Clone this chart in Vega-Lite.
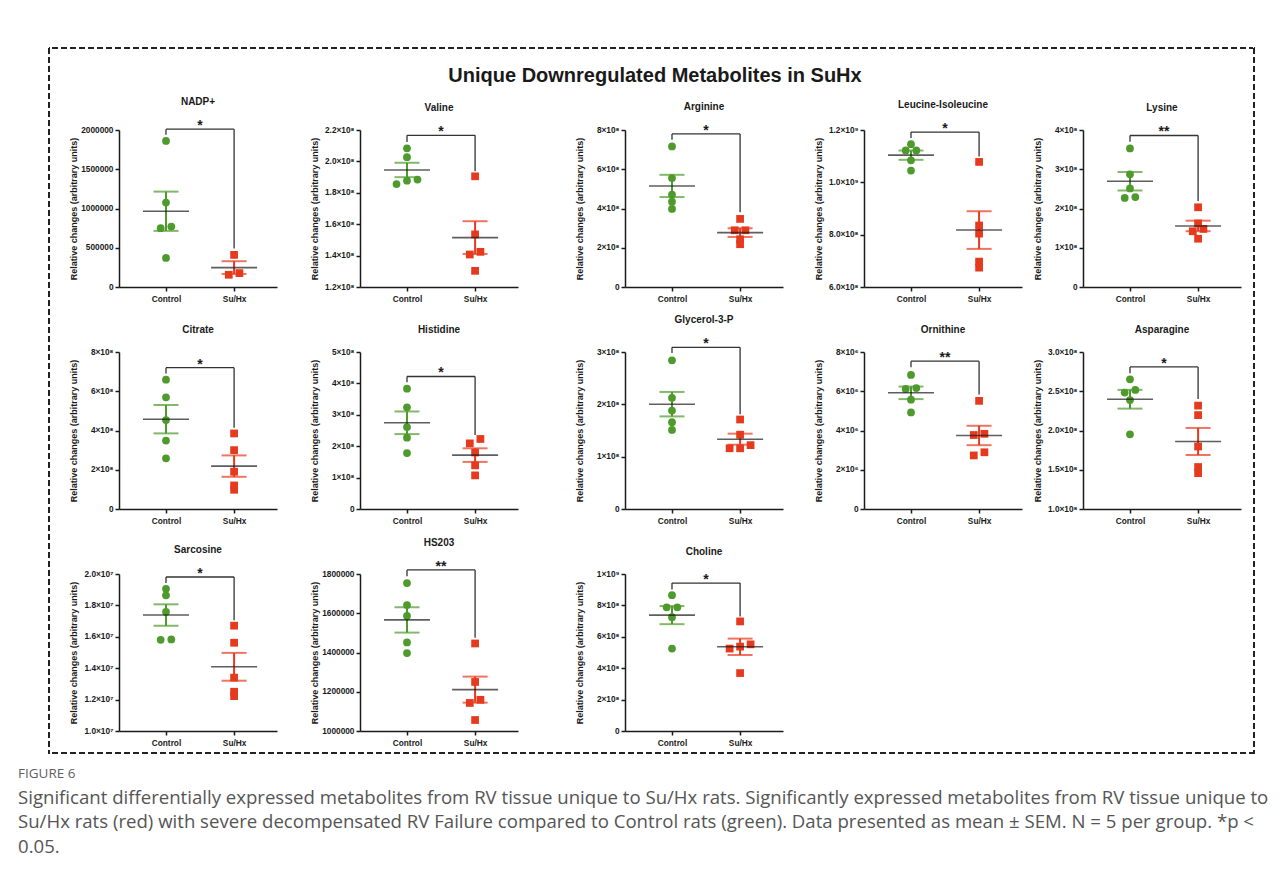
{
"$schema": "https://vega.github.io/schema/vega-lite/v6.json",
"background": "white",
"padding": {"left": 18, "top": 47, "right": 0, "bottom": 0},
"title": {"text": "FIGURE 6", "subtitle": ["Significant differentially expressed metabolites from RV tissue unique to Su/Hx rats. Significantly expressed metabolites from RV tissue unique to", "Su/Hx rats (red) with severe decompensated RV Failure compared to Control rats (green). Data presented as mean ± SEM. N = 5 per group. *p <", "0.05."], "orient": "bottom", "anchor": "start", "frame": "bounds", "dx": -30, "offset": 13, "font": "Open Sans", "fontSize": 13.5, "fontWeight": "normal", "color": "#5f5f5f", "subtitleFont": "Open Sans", "subtitleFontSize": 18.6, "subtitleColor": "#555555", "subtitleLineHeight": 24.5, "subtitlePadding": 8},
"datasets": {
"pts": [
{"p":"NADP+","g":"Control","v":1.86e6},{"p":"NADP+","g":"Control","v":1.075e6},{"p":"NADP+","g":"Control","v":7.7e5},{"p":"NADP+","g":"Control","v":7.5e5},{"p":"NADP+","g":"Control","v":3.7e5},
{"p":"NADP+","g":"Su/Hx","v":4.09e5},{"p":"NADP+","g":"Su/Hx","v":1.56e5},{"p":"NADP+","g":"Su/Hx","v":1.77e5},
{"p":"Valine","g":"Control","v":2.083e8},{"p":"Valine","g":"Control","v":2.027e8},{"p":"Valine","g":"Control","v":1.884e8},{"p":"Valine","g":"Control","v":1.877e8},{"p":"Valine","g":"Control","v":1.856e8},
{"p":"Valine","g":"Su/Hx","v":1.905e8},{"p":"Valine","g":"Su/Hx","v":1.535e8},{"p":"Valine","g":"Su/Hx","v":1.424e8},{"p":"Valine","g":"Su/Hx","v":1.407e8},{"p":"Valine","g":"Su/Hx","v":1.303e8},
{"p":"Arginine","g":"Control","v":7.16e8},{"p":"Arginine","g":"Control","v":5.55e8},{"p":"Arginine","g":"Control","v":4.71e8},{"p":"Arginine","g":"Control","v":4.35e8},{"p":"Arginine","g":"Control","v":3.98e8},
{"p":"Arginine","g":"Su/Hx","v":3.47e8},{"p":"Arginine","g":"Su/Hx","v":2.89e8},{"p":"Arginine","g":"Su/Hx","v":2.89e8},{"p":"Arginine","g":"Su/Hx","v":2.43e8},{"p":"Arginine","g":"Su/Hx","v":2.18e8},
{"p":"Leucine-Isoleucine","g":"Control","v":1.146e9},{"p":"Leucine-Isoleucine","g":"Control","v":1.122e9},{"p":"Leucine-Isoleucine","g":"Control","v":1.122e9},{"p":"Leucine-Isoleucine","g":"Control","v":1.084e9},{"p":"Leucine-Isoleucine","g":"Control","v":1.045e9},
{"p":"Leucine-Isoleucine","g":"Su/Hx","v":1.078e9},{"p":"Leucine-Isoleucine","g":"Su/Hx","v":8.35e8},{"p":"Leucine-Isoleucine","g":"Su/Hx","v":8.04e8},{"p":"Leucine-Isoleucine","g":"Su/Hx","v":6.97e8},{"p":"Leucine-Isoleucine","g":"Su/Hx","v":6.74e8},
{"p":"Lysine","g":"Control","v":3.53e8},{"p":"Lysine","g":"Control","v":2.87e8},{"p":"Lysine","g":"Control","v":2.51e8},{"p":"Lysine","g":"Control","v":2.27e8},{"p":"Lysine","g":"Control","v":2.29e8},
{"p":"Lysine","g":"Su/Hx","v":2.03e8},{"p":"Lysine","g":"Su/Hx","v":1.62e8},{"p":"Lysine","g":"Su/Hx","v":1.48e8},{"p":"Lysine","g":"Su/Hx","v":1.42e8},{"p":"Lysine","g":"Su/Hx","v":1.23e8},
{"p":"Citrate","g":"Control","v":6.59e8},{"p":"Citrate","g":"Control","v":5.69e8},{"p":"Citrate","g":"Control","v":4.53e8},{"p":"Citrate","g":"Control","v":3.49e8},{"p":"Citrate","g":"Control","v":2.58e8},
{"p":"Citrate","g":"Su/Hx","v":3.85e8},{"p":"Citrate","g":"Su/Hx","v":3.0e8},{"p":"Citrate","g":"Su/Hx","v":1.9e8},{"p":"Citrate","g":"Su/Hx","v":1.2e8},{"p":"Citrate","g":"Su/Hx","v":9.8e7},
{"p":"Histidine","g":"Control","v":3.83e8},{"p":"Histidine","g":"Control","v":3.24e8},{"p":"Histidine","g":"Control","v":2.61e8},{"p":"Histidine","g":"Control","v":2.27e8},{"p":"Histidine","g":"Control","v":1.78e8},
{"p":"Histidine","g":"Su/Hx","v":2.23e8},{"p":"Histidine","g":"Su/Hx","v":2.09e8},{"p":"Histidine","g":"Su/Hx","v":1.8e8},{"p":"Histidine","g":"Su/Hx","v":1.39e8},{"p":"Histidine","g":"Su/Hx","v":1.07e8},
{"p":"Glycerol-3-P","g":"Control","v":2.84e8},{"p":"Glycerol-3-P","g":"Control","v":2.125e8},{"p":"Glycerol-3-P","g":"Control","v":1.88e8},{"p":"Glycerol-3-P","g":"Control","v":1.66e8},{"p":"Glycerol-3-P","g":"Control","v":1.51e8},
{"p":"Glycerol-3-P","g":"Su/Hx","v":1.71e8},{"p":"Glycerol-3-P","g":"Su/Hx","v":1.42e8},{"p":"Glycerol-3-P","g":"Su/Hx","v":1.22e8},{"p":"Glycerol-3-P","g":"Su/Hx","v":1.16e8},{"p":"Glycerol-3-P","g":"Su/Hx","v":1.16e8},
{"p":"Ornithine","g":"Control","v":6.83e6},{"p":"Ornithine","g":"Control","v":6.12e6},{"p":"Ornithine","g":"Control","v":6.16e6},{"p":"Ornithine","g":"Control","v":5.57e6},{"p":"Ornithine","g":"Control","v":4.92e6},
{"p":"Ornithine","g":"Su/Hx","v":5.51e6},{"p":"Ornithine","g":"Su/Hx","v":3.77e6},{"p":"Ornithine","g":"Su/Hx","v":3.83e6},{"p":"Ornithine","g":"Su/Hx","v":2.89e6},{"p":"Ornithine","g":"Su/Hx","v":2.73e6},
{"p":"Asparagine","g":"Control","v":2.652e8},{"p":"Asparagine","g":"Control","v":2.483e8},{"p":"Asparagine","g":"Control","v":2.517e8},{"p":"Asparagine","g":"Control","v":2.387e8},{"p":"Asparagine","g":"Control","v":1.952e8},
{"p":"Asparagine","g":"Su/Hx","v":2.317e8},{"p":"Asparagine","g":"Su/Hx","v":2.196e8},{"p":"Asparagine","g":"Su/Hx","v":1.796e8},{"p":"Asparagine","g":"Su/Hx","v":1.535e8},{"p":"Asparagine","g":"Su/Hx","v":1.457e8},
{"p":"Sarcosine","g":"Control","v":1.906e7},{"p":"Sarcosine","g":"Control","v":1.864e7},{"p":"Sarcosine","g":"Control","v":1.759e7},{"p":"Sarcosine","g":"Control","v":1.581e7},{"p":"Sarcosine","g":"Control","v":1.583e7},
{"p":"Sarcosine","g":"Su/Hx","v":1.671e7},{"p":"Sarcosine","g":"Su/Hx","v":1.562e7},{"p":"Sarcosine","g":"Su/Hx","v":1.34e7},{"p":"Sarcosine","g":"Su/Hx","v":1.25e7},{"p":"Sarcosine","g":"Su/Hx","v":1.222e7},
{"p":"HS203","g":"Control","v":1.754e6},{"p":"HS203","g":"Control","v":1.642e6},{"p":"HS203","g":"Control","v":1.586e6},{"p":"HS203","g":"Control","v":1.451e6},{"p":"HS203","g":"Control","v":1.397e6},
{"p":"HS203","g":"Su/Hx","v":1.446e6},{"p":"HS203","g":"Su/Hx","v":1.25e6},{"p":"HS203","g":"Su/Hx","v":1.159e6},{"p":"HS203","g":"Su/Hx","v":1.143e6},{"p":"HS203","g":"Su/Hx","v":1.056e6},
{"p":"Choline","g":"Control","v":8.65e8},{"p":"Choline","g":"Control","v":7.88e8},{"p":"Choline","g":"Control","v":7.88e8},{"p":"Choline","g":"Control","v":7.25e8},{"p":"Choline","g":"Control","v":5.25e8},
{"p":"Choline","g":"Su/Hx","v":6.98e8},{"p":"Choline","g":"Su/Hx","v":5.52e8},{"p":"Choline","g":"Su/Hx","v":5.25e8},{"p":"Choline","g":"Su/Hx","v":5.375e8},{"p":"Choline","g":"Su/Hx","v":3.69e8}
],
"sig": [
{"p":"NADP+","top":2.01e6,"left":1.94e6,"right":4.9e5,"stars":"*"},
{"p":"Valine","top":2.166e8,"left":2.123e8,"right":1.937e8,"stars":"*"},
{"p":"Arginine","top":7.8e8,"left":7.5e8,"right":3.81e8,"stars":"*"},
{"p":"Leucine-Isoleucine","top":1.192e9,"left":1.169e9,"right":1.099e9,"stars":"*"},
{"p":"Lysine","top":3.86e8,"left":3.7e8,"right":2.19e8,"stars":"**"},
{"p":"Citrate","top":7.2e8,"left":6.9e8,"right":4.14e8,"stars":"*"},
{"p":"Histidine","top":4.22e8,"left":4.04e8,"right":2.36e8,"stars":"*"},
{"p":"Glycerol-3-P","top":3.09e8,"left":2.98e8,"right":1.81e8,"stars":"*"},
{"p":"Ornithine","top":7.53e6,"left":7.22e6,"right":5.83e6,"stars":"**"},
{"p":"Asparagine","top":2.81e8,"left":2.73e8,"right":2.4e8,"stars":"*"},
{"p":"Sarcosine","top":1.981e7,"left":1.943e7,"right":1.706e7,"stars":"*"},
{"p":"HS203","top":1.821e6,"left":1.789e6,"right":1.475e6,"stars":"**"},
{"p":"Choline","top":9.42e8,"left":9.02e8,"right":7.29e8,"stars":"*"}
]
},
"spacing": 0,
"hconcat": [
{"width": 0.01, "height": 705, "data": {"values": []}, "mark": "point", "view": {"stroke": "#222222", "strokeWidth": 2, "strokeDash": [6, 3]}},
{"vconcat": [
 {"vconcat": [
  {"width": 1200, "height": 0.01, "data": {"values": []}, "mark": "point", "view": {"stroke": "#222222", "strokeWidth": 2, "strokeDash": [6, 3]}},
  {"spacing": 16, "hconcat": [
  {"width": 0.01, "height": 0.01, "data": {"values": []}, "mark": "point"},
  {"title": {"text": "Unique Downregulated Metabolites in SuHx", "fontSize": 20, "offset": 11, "frame": "bounds", "anchor": "middle"},
   "spacing": 12,
   "vconcat": [
   {"spacing": 57, "hconcat": [
    {"spacing": 33, "hconcat": [
     {"title": "NADP+", "width": 158, "height": 157,
      "encoding": {"x": {"field": "gx", "type": "quantitative", "scale": {"domain": [-0.69, 1.63], "nice": false, "zero": false}, "axis": {"values": [0, 1], "labelExpr": "datum.value == 0 ? 'Control' : 'Su/Hx'", "title": null}},
                   "y": {"field": "v", "type": "quantitative", "scale": {"domain": [0, 2000000], "nice": false, "zero": false}, "axis": {"values": [0, 500000, 1000000, 1500000, 2000000], "format": "d", "title": "Relative changes (arbitrary units)"}}},
      "layer": [
       {"data": {"name": "pts"}, "transform": [{"filter": "datum.p == 'NADP+'"}, {"joinaggregate": [{"op": "min", "field": "v", "as": "vmin"}, {"op": "max", "field": "v", "as": "vmax"}]}, {"window": [{"op": "lag", "field": "v", "as": "vp"}, {"op": "lead", "field": "v", "as": "vn"}], "groupby": ["g"], "sort": [{"field": "v", "order": "ascending"}]}, {"calculate": "datum.vp != null && datum.v - datum.vp < 0.04 * (datum.vmax - datum.vmin)", "as": "cp"}, {"calculate": "datum.vn != null && datum.vn - datum.v < 0.04 * (datum.vmax - datum.vmin)", "as": "cn"}, {"window": [{"op": "lag", "field": "cp", "as": "cpp"}, {"op": "lead", "field": "cn", "as": "cnn"}], "groupby": ["g"], "sort": [{"field": "v", "order": "ascending"}]}, {"calculate": "(datum.g == 'Control' ? 0 : 1) + (datum.cp && datum.cn ? 0 : datum.cn ? (datum.cnn ? -0.154 : -0.078) : datum.cp ? (datum.cpp ? 0.154 : 0.078) : 0)", "as": "gx"}], "mark": {"type": "point", "filled": true, "size": 60, "opacity": 1}, "encoding": {"color": {"field": "g", "type": "nominal", "scale": {"domain": ["Control", "Su/Hx"], "range": ["#4e9a2c", "#e63a1e"]}, "legend": null}, "shape": {"field": "g", "type": "nominal", "scale": {"domain": ["Control", "Su/Hx"], "range": ["circle", "square"]}, "legend": null}}},
       {"data": {"name": "pts"}, "transform": [{"filter": "datum.p == 'NADP+'"}, {"aggregate": [{"op": "mean", "field": "v", "as": "v"}, {"op": "stderr", "field": "v", "as": "se"}], "groupby": ["g"]}, {"calculate": "datum.g == 'Control' ? 0 : 1", "as": "gx"}, {"calculate": "datum.v - datum.se", "as": "lo"}, {"calculate": "datum.v + datum.se", "as": "hi"}],
        "layer": [
         {"mark": {"type": "rule", "strokeWidth": 2}, "encoding": {"y": {"field": "lo", "type": "quantitative"}, "y2": {"field": "hi"}, "color": {"field": "g", "type": "nominal", "legend": null}}},
         {"mark": {"type": "tick", "orient": "horizontal", "size": 25, "thickness": 2}, "encoding": {"y": {"field": "lo", "type": "quantitative"}, "color": {"field": "g", "type": "nominal", "legend": null}}},
         {"mark": {"type": "tick", "orient": "horizontal", "size": 25, "thickness": 2}, "encoding": {"y": {"field": "hi", "type": "quantitative"}, "color": {"field": "g", "type": "nominal", "legend": null}}},
         {"mark": {"type": "tick", "orient": "horizontal", "size": 46, "thickness": 1.6, "color": "#1a1a1a"}, "encoding": {}}
        ]},
       {"data": {"name": "sig"}, "transform": [{"filter": "datum.p == 'NADP+'"}],
        "layer": [
         {"transform": [{"calculate": "0", "as": "gx"}], "mark": "rule", "encoding": {"y": {"field": "left", "type": "quantitative"}, "y2": {"field": "top"}}},
         {"transform": [{"calculate": "0", "as": "gx"}, {"calculate": "1", "as": "gx2"}], "mark": "rule", "encoding": {"x2": {"field": "gx2"}, "y": {"field": "top", "type": "quantitative"}}},
         {"transform": [{"calculate": "1", "as": "gx"}], "mark": "rule", "encoding": {"y": {"field": "right", "type": "quantitative"}, "y2": {"field": "top"}}},
         {"transform": [{"calculate": "0.5", "as": "gx"}], "mark": "text", "encoding": {"y": {"field": "top", "type": "quantitative"}, "text": {"field": "stars"}}}
        ]}
      ]},
     {"title": "Valine", "width": 158, "height": 157,
      "encoding": {"x": {"field": "gx", "type": "quantitative", "scale": {"domain": [-0.69, 1.63], "nice": false, "zero": false}, "axis": {"values": [0, 1], "labelExpr": "datum.value == 0 ? 'Control' : 'Su/Hx'", "title": null}},
                   "y": {"field": "v", "type": "quantitative", "scale": {"domain": [1.2e8, 2.2e8], "nice": false, "zero": false}, "axis": {"values": [1.2e8, 1.4e8, 1.6e8, 1.8e8, 2.0e8, 2.2e8], "labelExpr": "datum.value == 0 ? '0' : format(datum.value / pow(10, floor(log(datum.value) / LN10 + 1e-6)), '.1f') + '×10' + ['⁰','¹','²','³','⁴','⁵','⁶','⁷','⁸','⁹'][floor(log(datum.value) / LN10 + 1e-6)]", "title": "Relative changes (arbitrary units)"}}},
      "layer": [
       {"data": {"name": "pts"}, "transform": [{"filter": "datum.p == 'Valine'"}, {"joinaggregate": [{"op": "min", "field": "v", "as": "vmin"}, {"op": "max", "field": "v", "as": "vmax"}]}, {"window": [{"op": "lag", "field": "v", "as": "vp"}, {"op": "lead", "field": "v", "as": "vn"}], "groupby": ["g"], "sort": [{"field": "v", "order": "ascending"}]}, {"calculate": "datum.vp != null && datum.v - datum.vp < 0.04 * (datum.vmax - datum.vmin)", "as": "cp"}, {"calculate": "datum.vn != null && datum.vn - datum.v < 0.04 * (datum.vmax - datum.vmin)", "as": "cn"}, {"window": [{"op": "lag", "field": "cp", "as": "cpp"}, {"op": "lead", "field": "cn", "as": "cnn"}], "groupby": ["g"], "sort": [{"field": "v", "order": "ascending"}]}, {"calculate": "(datum.g == 'Control' ? 0 : 1) + (datum.cp && datum.cn ? 0 : datum.cn ? (datum.cnn ? -0.154 : -0.078) : datum.cp ? (datum.cpp ? 0.154 : 0.078) : 0)", "as": "gx"}], "mark": {"type": "point", "filled": true, "size": 60, "opacity": 1}, "encoding": {"color": {"field": "g", "type": "nominal", "scale": {"domain": ["Control", "Su/Hx"], "range": ["#4e9a2c", "#e63a1e"]}, "legend": null}, "shape": {"field": "g", "type": "nominal", "scale": {"domain": ["Control", "Su/Hx"], "range": ["circle", "square"]}, "legend": null}}},
       {"data": {"name": "pts"}, "transform": [{"filter": "datum.p == 'Valine'"}, {"aggregate": [{"op": "mean", "field": "v", "as": "v"}, {"op": "stderr", "field": "v", "as": "se"}], "groupby": ["g"]}, {"calculate": "datum.g == 'Control' ? 0 : 1", "as": "gx"}, {"calculate": "datum.v - datum.se", "as": "lo"}, {"calculate": "datum.v + datum.se", "as": "hi"}],
        "layer": [
         {"mark": {"type": "rule", "strokeWidth": 2}, "encoding": {"y": {"field": "lo", "type": "quantitative"}, "y2": {"field": "hi"}, "color": {"field": "g", "type": "nominal", "legend": null}}},
         {"mark": {"type": "tick", "orient": "horizontal", "size": 25, "thickness": 2}, "encoding": {"y": {"field": "lo", "type": "quantitative"}, "color": {"field": "g", "type": "nominal", "legend": null}}},
         {"mark": {"type": "tick", "orient": "horizontal", "size": 25, "thickness": 2}, "encoding": {"y": {"field": "hi", "type": "quantitative"}, "color": {"field": "g", "type": "nominal", "legend": null}}},
         {"mark": {"type": "tick", "orient": "horizontal", "size": 46, "thickness": 1.6, "color": "#1a1a1a"}, "encoding": {}}
        ]},
       {"data": {"name": "sig"}, "transform": [{"filter": "datum.p == 'Valine'"}],
        "layer": [
         {"transform": [{"calculate": "0", "as": "gx"}], "mark": "rule", "encoding": {"y": {"field": "left", "type": "quantitative"}, "y2": {"field": "top"}}},
         {"transform": [{"calculate": "0", "as": "gx"}, {"calculate": "1", "as": "gx2"}], "mark": "rule", "encoding": {"x2": {"field": "gx2"}, "y": {"field": "top", "type": "quantitative"}}},
         {"transform": [{"calculate": "1", "as": "gx"}], "mark": "rule", "encoding": {"y": {"field": "right", "type": "quantitative"}, "y2": {"field": "top"}}},
         {"transform": [{"calculate": "0.5", "as": "gx"}], "mark": "text", "encoding": {"y": {"field": "top", "type": "quantitative"}, "text": {"field": "stars"}}}
        ]}
      ]}
    ]},
    {"spacing": 31, "hconcat": [
     {"title": "Arginine", "width": 158, "height": 157,
      "encoding": {"x": {"field": "gx", "type": "quantitative", "scale": {"domain": [-0.69, 1.63], "nice": false, "zero": false}, "axis": {"values": [0, 1], "labelExpr": "datum.value == 0 ? 'Control' : 'Su/Hx'", "title": null}},
                   "y": {"field": "v", "type": "quantitative", "scale": {"domain": [0, 8e8], "nice": false, "zero": false}, "axis": {"values": [0, 2e8, 4e8, 6e8, 8e8], "labelExpr": "datum.value == 0 ? '0' : format(datum.value / pow(10, floor(log(datum.value) / LN10 + 1e-6)), '.0f') + '×10' + ['⁰','¹','²','³','⁴','⁵','⁶','⁷','⁸','⁹'][floor(log(datum.value) / LN10 + 1e-6)]", "title": "Relative changes (arbitrary units)"}}},
      "layer": [
       {"data": {"name": "pts"}, "transform": [{"filter": "datum.p == 'Arginine'"}, {"joinaggregate": [{"op": "min", "field": "v", "as": "vmin"}, {"op": "max", "field": "v", "as": "vmax"}]}, {"window": [{"op": "lag", "field": "v", "as": "vp"}, {"op": "lead", "field": "v", "as": "vn"}], "groupby": ["g"], "sort": [{"field": "v", "order": "ascending"}]}, {"calculate": "datum.vp != null && datum.v - datum.vp < 0.04 * (datum.vmax - datum.vmin)", "as": "cp"}, {"calculate": "datum.vn != null && datum.vn - datum.v < 0.04 * (datum.vmax - datum.vmin)", "as": "cn"}, {"window": [{"op": "lag", "field": "cp", "as": "cpp"}, {"op": "lead", "field": "cn", "as": "cnn"}], "groupby": ["g"], "sort": [{"field": "v", "order": "ascending"}]}, {"calculate": "(datum.g == 'Control' ? 0 : 1) + (datum.cp && datum.cn ? 0 : datum.cn ? (datum.cnn ? -0.154 : -0.078) : datum.cp ? (datum.cpp ? 0.154 : 0.078) : 0)", "as": "gx"}], "mark": {"type": "point", "filled": true, "size": 60, "opacity": 1}, "encoding": {"color": {"field": "g", "type": "nominal", "scale": {"domain": ["Control", "Su/Hx"], "range": ["#4e9a2c", "#e63a1e"]}, "legend": null}, "shape": {"field": "g", "type": "nominal", "scale": {"domain": ["Control", "Su/Hx"], "range": ["circle", "square"]}, "legend": null}}},
       {"data": {"name": "pts"}, "transform": [{"filter": "datum.p == 'Arginine'"}, {"aggregate": [{"op": "mean", "field": "v", "as": "v"}, {"op": "stderr", "field": "v", "as": "se"}], "groupby": ["g"]}, {"calculate": "datum.g == 'Control' ? 0 : 1", "as": "gx"}, {"calculate": "datum.v - datum.se", "as": "lo"}, {"calculate": "datum.v + datum.se", "as": "hi"}],
        "layer": [
         {"mark": {"type": "rule", "strokeWidth": 2}, "encoding": {"y": {"field": "lo", "type": "quantitative"}, "y2": {"field": "hi"}, "color": {"field": "g", "type": "nominal", "legend": null}}},
         {"mark": {"type": "tick", "orient": "horizontal", "size": 25, "thickness": 2}, "encoding": {"y": {"field": "lo", "type": "quantitative"}, "color": {"field": "g", "type": "nominal", "legend": null}}},
         {"mark": {"type": "tick", "orient": "horizontal", "size": 25, "thickness": 2}, "encoding": {"y": {"field": "hi", "type": "quantitative"}, "color": {"field": "g", "type": "nominal", "legend": null}}},
         {"mark": {"type": "tick", "orient": "horizontal", "size": 46, "thickness": 1.6, "color": "#1a1a1a"}, "encoding": {}}
        ]},
       {"data": {"name": "sig"}, "transform": [{"filter": "datum.p == 'Arginine'"}],
        "layer": [
         {"transform": [{"calculate": "0", "as": "gx"}], "mark": "rule", "encoding": {"y": {"field": "left", "type": "quantitative"}, "y2": {"field": "top"}}},
         {"transform": [{"calculate": "0", "as": "gx"}, {"calculate": "1", "as": "gx2"}], "mark": "rule", "encoding": {"x2": {"field": "gx2"}, "y": {"field": "top", "type": "quantitative"}}},
         {"transform": [{"calculate": "1", "as": "gx"}], "mark": "rule", "encoding": {"y": {"field": "right", "type": "quantitative"}, "y2": {"field": "top"}}},
         {"transform": [{"calculate": "0.5", "as": "gx"}], "mark": "text", "encoding": {"y": {"field": "top", "type": "quantitative"}, "text": {"field": "stars"}}}
        ]}
      ]},
     {"spacing": 11, "hconcat": [
      {"title": "Leucine-Isoleucine", "width": 158, "height": 157,
       "encoding": {"x": {"field": "gx", "type": "quantitative", "scale": {"domain": [-0.69, 1.63], "nice": false, "zero": false}, "axis": {"values": [0, 1], "labelExpr": "datum.value == 0 ? 'Control' : 'Su/Hx'", "title": null}},
                    "y": {"field": "v", "type": "quantitative", "scale": {"domain": [6e8, 1.2e9], "nice": false, "zero": false}, "axis": {"values": [6e8, 8e8, 1e9, 1.2e9], "labelExpr": "datum.value == 0 ? '0' : format(datum.value / pow(10, floor(log(datum.value) / LN10 + 1e-6)), '.1f') + '×10' + ['⁰','¹','²','³','⁴','⁵','⁶','⁷','⁸','⁹'][floor(log(datum.value) / LN10 + 1e-6)]", "title": "Relative changes (arbitrary units)"}}},
       "layer": [
        {"data": {"name": "pts"}, "transform": [{"filter": "datum.p == 'Leucine-Isoleucine'"}, {"joinaggregate": [{"op": "min", "field": "v", "as": "vmin"}, {"op": "max", "field": "v", "as": "vmax"}]}, {"window": [{"op": "lag", "field": "v", "as": "vp"}, {"op": "lead", "field": "v", "as": "vn"}], "groupby": ["g"], "sort": [{"field": "v", "order": "ascending"}]}, {"calculate": "datum.vp != null && datum.v - datum.vp < 0.04 * (datum.vmax - datum.vmin)", "as": "cp"}, {"calculate": "datum.vn != null && datum.vn - datum.v < 0.04 * (datum.vmax - datum.vmin)", "as": "cn"}, {"window": [{"op": "lag", "field": "cp", "as": "cpp"}, {"op": "lead", "field": "cn", "as": "cnn"}], "groupby": ["g"], "sort": [{"field": "v", "order": "ascending"}]}, {"calculate": "(datum.g == 'Control' ? 0 : 1) + (datum.cp && datum.cn ? 0 : datum.cn ? (datum.cnn ? -0.154 : -0.078) : datum.cp ? (datum.cpp ? 0.154 : 0.078) : 0)", "as": "gx"}], "mark": {"type": "point", "filled": true, "size": 60, "opacity": 1}, "encoding": {"color": {"field": "g", "type": "nominal", "scale": {"domain": ["Control", "Su/Hx"], "range": ["#4e9a2c", "#e63a1e"]}, "legend": null}, "shape": {"field": "g", "type": "nominal", "scale": {"domain": ["Control", "Su/Hx"], "range": ["circle", "square"]}, "legend": null}}},
        {"data": {"name": "pts"}, "transform": [{"filter": "datum.p == 'Leucine-Isoleucine'"}, {"aggregate": [{"op": "mean", "field": "v", "as": "v"}, {"op": "stderr", "field": "v", "as": "se"}], "groupby": ["g"]}, {"calculate": "datum.g == 'Control' ? 0 : 1", "as": "gx"}, {"calculate": "datum.v - datum.se", "as": "lo"}, {"calculate": "datum.v + datum.se", "as": "hi"}],
         "layer": [
          {"mark": {"type": "rule", "strokeWidth": 2}, "encoding": {"y": {"field": "lo", "type": "quantitative"}, "y2": {"field": "hi"}, "color": {"field": "g", "type": "nominal", "legend": null}}},
          {"mark": {"type": "tick", "orient": "horizontal", "size": 25, "thickness": 2}, "encoding": {"y": {"field": "lo", "type": "quantitative"}, "color": {"field": "g", "type": "nominal", "legend": null}}},
          {"mark": {"type": "tick", "orient": "horizontal", "size": 25, "thickness": 2}, "encoding": {"y": {"field": "hi", "type": "quantitative"}, "color": {"field": "g", "type": "nominal", "legend": null}}},
          {"mark": {"type": "tick", "orient": "horizontal", "size": 46, "thickness": 1.6, "color": "#1a1a1a"}, "encoding": {}}
         ]},
        {"data": {"name": "sig"}, "transform": [{"filter": "datum.p == 'Leucine-Isoleucine'"}],
         "layer": [
          {"transform": [{"calculate": "0", "as": "gx"}], "mark": "rule", "encoding": {"y": {"field": "left", "type": "quantitative"}, "y2": {"field": "top"}}},
          {"transform": [{"calculate": "0", "as": "gx"}, {"calculate": "1", "as": "gx2"}], "mark": "rule", "encoding": {"x2": {"field": "gx2"}, "y": {"field": "top", "type": "quantitative"}}},
          {"transform": [{"calculate": "1", "as": "gx"}], "mark": "rule", "encoding": {"y": {"field": "right", "type": "quantitative"}, "y2": {"field": "top"}}},
          {"transform": [{"calculate": "0.5", "as": "gx"}], "mark": "text", "encoding": {"y": {"field": "top", "type": "quantitative"}, "text": {"field": "stars"}}}
         ]}
       ]},
      {"title": "Lysine", "width": 158, "height": 157,
       "encoding": {"x": {"field": "gx", "type": "quantitative", "scale": {"domain": [-0.69, 1.63], "nice": false, "zero": false}, "axis": {"values": [0, 1], "labelExpr": "datum.value == 0 ? 'Control' : 'Su/Hx'", "title": null}},
                    "y": {"field": "v", "type": "quantitative", "scale": {"domain": [0, 4e8], "nice": false, "zero": false}, "axis": {"values": [0, 1e8, 2e8, 3e8, 4e8], "labelExpr": "datum.value == 0 ? '0' : format(datum.value / pow(10, floor(log(datum.value) / LN10 + 1e-6)), '.0f') + '×10' + ['⁰','¹','²','³','⁴','⁵','⁶','⁷','⁸','⁹'][floor(log(datum.value) / LN10 + 1e-6)]", "title": "Relative changes (arbitrary units)"}}},
       "layer": [
        {"data": {"name": "pts"}, "transform": [{"filter": "datum.p == 'Lysine'"}, {"joinaggregate": [{"op": "min", "field": "v", "as": "vmin"}, {"op": "max", "field": "v", "as": "vmax"}]}, {"window": [{"op": "lag", "field": "v", "as": "vp"}, {"op": "lead", "field": "v", "as": "vn"}], "groupby": ["g"], "sort": [{"field": "v", "order": "ascending"}]}, {"calculate": "datum.vp != null && datum.v - datum.vp < 0.04 * (datum.vmax - datum.vmin)", "as": "cp"}, {"calculate": "datum.vn != null && datum.vn - datum.v < 0.04 * (datum.vmax - datum.vmin)", "as": "cn"}, {"window": [{"op": "lag", "field": "cp", "as": "cpp"}, {"op": "lead", "field": "cn", "as": "cnn"}], "groupby": ["g"], "sort": [{"field": "v", "order": "ascending"}]}, {"calculate": "(datum.g == 'Control' ? 0 : 1) + (datum.cp && datum.cn ? 0 : datum.cn ? (datum.cnn ? -0.154 : -0.078) : datum.cp ? (datum.cpp ? 0.154 : 0.078) : 0)", "as": "gx"}], "mark": {"type": "point", "filled": true, "size": 60, "opacity": 1}, "encoding": {"color": {"field": "g", "type": "nominal", "scale": {"domain": ["Control", "Su/Hx"], "range": ["#4e9a2c", "#e63a1e"]}, "legend": null}, "shape": {"field": "g", "type": "nominal", "scale": {"domain": ["Control", "Su/Hx"], "range": ["circle", "square"]}, "legend": null}}},
        {"data": {"name": "pts"}, "transform": [{"filter": "datum.p == 'Lysine'"}, {"aggregate": [{"op": "mean", "field": "v", "as": "v"}, {"op": "stderr", "field": "v", "as": "se"}], "groupby": ["g"]}, {"calculate": "datum.g == 'Control' ? 0 : 1", "as": "gx"}, {"calculate": "datum.v - datum.se", "as": "lo"}, {"calculate": "datum.v + datum.se", "as": "hi"}],
         "layer": [
          {"mark": {"type": "rule", "strokeWidth": 2}, "encoding": {"y": {"field": "lo", "type": "quantitative"}, "y2": {"field": "hi"}, "color": {"field": "g", "type": "nominal", "legend": null}}},
          {"mark": {"type": "tick", "orient": "horizontal", "size": 25, "thickness": 2}, "encoding": {"y": {"field": "lo", "type": "quantitative"}, "color": {"field": "g", "type": "nominal", "legend": null}}},
          {"mark": {"type": "tick", "orient": "horizontal", "size": 25, "thickness": 2}, "encoding": {"y": {"field": "hi", "type": "quantitative"}, "color": {"field": "g", "type": "nominal", "legend": null}}},
          {"mark": {"type": "tick", "orient": "horizontal", "size": 46, "thickness": 1.6, "color": "#1a1a1a"}, "encoding": {}}
         ]},
        {"data": {"name": "sig"}, "transform": [{"filter": "datum.p == 'Lysine'"}],
         "layer": [
          {"transform": [{"calculate": "0", "as": "gx"}], "mark": "rule", "encoding": {"y": {"field": "left", "type": "quantitative"}, "y2": {"field": "top"}}},
          {"transform": [{"calculate": "0", "as": "gx"}, {"calculate": "1", "as": "gx2"}], "mark": "rule", "encoding": {"x2": {"field": "gx2"}, "y": {"field": "top", "type": "quantitative"}}},
          {"transform": [{"calculate": "1", "as": "gx"}], "mark": "rule", "encoding": {"y": {"field": "right", "type": "quantitative"}, "y2": {"field": "top"}}},
          {"transform": [{"calculate": "0.5", "as": "gx"}], "mark": "text", "encoding": {"y": {"field": "top", "type": "quantitative"}, "text": {"field": "stars"}}}
         ]}
       ]}
     ]}
    ]}
   ]},
   {"spacing": 57, "hconcat": [
    {"spacing": 33, "hconcat": [
     {"title": "Citrate", "width": 158, "height": 157,
      "encoding": {"x": {"field": "gx", "type": "quantitative", "scale": {"domain": [-0.69, 1.63], "nice": false, "zero": false}, "axis": {"values": [0, 1], "labelExpr": "datum.value == 0 ? 'Control' : 'Su/Hx'", "title": null}},
                   "y": {"field": "v", "type": "quantitative", "scale": {"domain": [0, 8e8], "nice": false, "zero": false}, "axis": {"values": [0, 2e8, 4e8, 6e8, 8e8], "labelExpr": "datum.value == 0 ? '0' : format(datum.value / pow(10, floor(log(datum.value) / LN10 + 1e-6)), '.0f') + '×10' + ['⁰','¹','²','³','⁴','⁵','⁶','⁷','⁸','⁹'][floor(log(datum.value) / LN10 + 1e-6)]", "title": "Relative changes (arbitrary units)"}}},
      "layer": [
       {"data": {"name": "pts"}, "transform": [{"filter": "datum.p == 'Citrate'"}, {"joinaggregate": [{"op": "min", "field": "v", "as": "vmin"}, {"op": "max", "field": "v", "as": "vmax"}]}, {"window": [{"op": "lag", "field": "v", "as": "vp"}, {"op": "lead", "field": "v", "as": "vn"}], "groupby": ["g"], "sort": [{"field": "v", "order": "ascending"}]}, {"calculate": "datum.vp != null && datum.v - datum.vp < 0.035 * (datum.vmax - datum.vmin)", "as": "cp"}, {"calculate": "datum.vn != null && datum.vn - datum.v < 0.035 * (datum.vmax - datum.vmin)", "as": "cn"}, {"window": [{"op": "lag", "field": "cp", "as": "cpp"}, {"op": "lead", "field": "cn", "as": "cnn"}], "groupby": ["g"], "sort": [{"field": "v", "order": "ascending"}]}, {"calculate": "(datum.g == 'Control' ? 0 : 1) + (datum.cp && datum.cn ? 0 : datum.cn ? (datum.cnn ? -0.154 : -0.078) : datum.cp ? (datum.cpp ? 0.154 : 0.078) : 0)", "as": "gx"}], "mark": {"type": "point", "filled": true, "size": 60, "opacity": 1}, "encoding": {"color": {"field": "g", "type": "nominal", "scale": {"domain": ["Control", "Su/Hx"], "range": ["#4e9a2c", "#e63a1e"]}, "legend": null}, "shape": {"field": "g", "type": "nominal", "scale": {"domain": ["Control", "Su/Hx"], "range": ["circle", "square"]}, "legend": null}}},
       {"data": {"name": "pts"}, "transform": [{"filter": "datum.p == 'Citrate'"}, {"aggregate": [{"op": "mean", "field": "v", "as": "v"}, {"op": "stderr", "field": "v", "as": "se"}], "groupby": ["g"]}, {"calculate": "datum.g == 'Control' ? 0 : 1", "as": "gx"}, {"calculate": "datum.v - datum.se", "as": "lo"}, {"calculate": "datum.v + datum.se", "as": "hi"}],
        "layer": [
         {"mark": {"type": "rule", "strokeWidth": 2}, "encoding": {"y": {"field": "lo", "type": "quantitative"}, "y2": {"field": "hi"}, "color": {"field": "g", "type": "nominal", "legend": null}}},
         {"mark": {"type": "tick", "orient": "horizontal", "size": 25, "thickness": 2}, "encoding": {"y": {"field": "lo", "type": "quantitative"}, "color": {"field": "g", "type": "nominal", "legend": null}}},
         {"mark": {"type": "tick", "orient": "horizontal", "size": 25, "thickness": 2}, "encoding": {"y": {"field": "hi", "type": "quantitative"}, "color": {"field": "g", "type": "nominal", "legend": null}}},
         {"mark": {"type": "tick", "orient": "horizontal", "size": 46, "thickness": 1.6, "color": "#1a1a1a"}, "encoding": {}}
        ]},
       {"data": {"name": "sig"}, "transform": [{"filter": "datum.p == 'Citrate'"}],
        "layer": [
         {"transform": [{"calculate": "0", "as": "gx"}], "mark": "rule", "encoding": {"y": {"field": "left", "type": "quantitative"}, "y2": {"field": "top"}}},
         {"transform": [{"calculate": "0", "as": "gx"}, {"calculate": "1", "as": "gx2"}], "mark": "rule", "encoding": {"x2": {"field": "gx2"}, "y": {"field": "top", "type": "quantitative"}}},
         {"transform": [{"calculate": "1", "as": "gx"}], "mark": "rule", "encoding": {"y": {"field": "right", "type": "quantitative"}, "y2": {"field": "top"}}},
         {"transform": [{"calculate": "0.5", "as": "gx"}], "mark": "text", "encoding": {"y": {"field": "top", "type": "quantitative"}, "text": {"field": "stars"}}}
        ]}
      ]},
     {"title": "Histidine", "width": 158, "height": 157,
      "encoding": {"x": {"field": "gx", "type": "quantitative", "scale": {"domain": [-0.69, 1.63], "nice": false, "zero": false}, "axis": {"values": [0, 1], "labelExpr": "datum.value == 0 ? 'Control' : 'Su/Hx'", "title": null}},
                   "y": {"field": "v", "type": "quantitative", "scale": {"domain": [0, 5e8], "nice": false, "zero": false}, "axis": {"values": [0, 1e8, 2e8, 3e8, 4e8, 5e8], "labelExpr": "datum.value == 0 ? '0' : format(datum.value / pow(10, floor(log(datum.value) / LN10 + 1e-6)), '.0f') + '×10' + ['⁰','¹','²','³','⁴','⁵','⁶','⁷','⁸','⁹'][floor(log(datum.value) / LN10 + 1e-6)]", "title": "Relative changes (arbitrary units)"}}},
      "layer": [
       {"data": {"name": "pts"}, "transform": [{"filter": "datum.p == 'Histidine'"}, {"joinaggregate": [{"op": "min", "field": "v", "as": "vmin"}, {"op": "max", "field": "v", "as": "vmax"}]}, {"window": [{"op": "lag", "field": "v", "as": "vp"}, {"op": "lead", "field": "v", "as": "vn"}], "groupby": ["g"], "sort": [{"field": "v", "order": "ascending"}]}, {"calculate": "datum.vp != null && datum.v - datum.vp < 0.055 * (datum.vmax - datum.vmin)", "as": "cp"}, {"calculate": "datum.vn != null && datum.vn - datum.v < 0.055 * (datum.vmax - datum.vmin)", "as": "cn"}, {"window": [{"op": "lag", "field": "cp", "as": "cpp"}, {"op": "lead", "field": "cn", "as": "cnn"}], "groupby": ["g"], "sort": [{"field": "v", "order": "ascending"}]}, {"calculate": "(datum.g == 'Control' ? 0 : 1) + (datum.cp && datum.cn ? 0 : datum.cn ? (datum.cnn ? -0.154 : -0.078) : datum.cp ? (datum.cpp ? 0.154 : 0.078) : 0)", "as": "gx"}], "mark": {"type": "point", "filled": true, "size": 60, "opacity": 1}, "encoding": {"color": {"field": "g", "type": "nominal", "scale": {"domain": ["Control", "Su/Hx"], "range": ["#4e9a2c", "#e63a1e"]}, "legend": null}, "shape": {"field": "g", "type": "nominal", "scale": {"domain": ["Control", "Su/Hx"], "range": ["circle", "square"]}, "legend": null}}},
       {"data": {"name": "pts"}, "transform": [{"filter": "datum.p == 'Histidine'"}, {"aggregate": [{"op": "mean", "field": "v", "as": "v"}, {"op": "stderr", "field": "v", "as": "se"}], "groupby": ["g"]}, {"calculate": "datum.g == 'Control' ? 0 : 1", "as": "gx"}, {"calculate": "datum.v - datum.se", "as": "lo"}, {"calculate": "datum.v + datum.se", "as": "hi"}],
        "layer": [
         {"mark": {"type": "rule", "strokeWidth": 2}, "encoding": {"y": {"field": "lo", "type": "quantitative"}, "y2": {"field": "hi"}, "color": {"field": "g", "type": "nominal", "legend": null}}},
         {"mark": {"type": "tick", "orient": "horizontal", "size": 25, "thickness": 2}, "encoding": {"y": {"field": "lo", "type": "quantitative"}, "color": {"field": "g", "type": "nominal", "legend": null}}},
         {"mark": {"type": "tick", "orient": "horizontal", "size": 25, "thickness": 2}, "encoding": {"y": {"field": "hi", "type": "quantitative"}, "color": {"field": "g", "type": "nominal", "legend": null}}},
         {"mark": {"type": "tick", "orient": "horizontal", "size": 46, "thickness": 1.6, "color": "#1a1a1a"}, "encoding": {}}
        ]},
       {"data": {"name": "sig"}, "transform": [{"filter": "datum.p == 'Histidine'"}],
        "layer": [
         {"transform": [{"calculate": "0", "as": "gx"}], "mark": "rule", "encoding": {"y": {"field": "left", "type": "quantitative"}, "y2": {"field": "top"}}},
         {"transform": [{"calculate": "0", "as": "gx"}, {"calculate": "1", "as": "gx2"}], "mark": "rule", "encoding": {"x2": {"field": "gx2"}, "y": {"field": "top", "type": "quantitative"}}},
         {"transform": [{"calculate": "1", "as": "gx"}], "mark": "rule", "encoding": {"y": {"field": "right", "type": "quantitative"}, "y2": {"field": "top"}}},
         {"transform": [{"calculate": "0.5", "as": "gx"}], "mark": "text", "encoding": {"y": {"field": "top", "type": "quantitative"}, "text": {"field": "stars"}}}
        ]}
      ]}
    ]},
    {"spacing": 31, "hconcat": [
     {"title": "Glycerol-3-P", "width": 158, "height": 157,
      "encoding": {"x": {"field": "gx", "type": "quantitative", "scale": {"domain": [-0.69, 1.63], "nice": false, "zero": false}, "axis": {"values": [0, 1], "labelExpr": "datum.value == 0 ? 'Control' : 'Su/Hx'", "title": null}},
                   "y": {"field": "v", "type": "quantitative", "scale": {"domain": [0, 3e8], "nice": false, "zero": false}, "axis": {"values": [0, 1e8, 2e8, 3e8], "labelExpr": "datum.value == 0 ? '0' : format(datum.value / pow(10, floor(log(datum.value) / LN10 + 1e-6)), '.0f') + '×10' + ['⁰','¹','²','³','⁴','⁵','⁶','⁷','⁸','⁹'][floor(log(datum.value) / LN10 + 1e-6)]", "title": "Relative changes (arbitrary units)"}}},
      "layer": [
       {"data": {"name": "pts"}, "transform": [{"filter": "datum.p == 'Glycerol-3-P'"}, {"joinaggregate": [{"op": "min", "field": "v", "as": "vmin"}, {"op": "max", "field": "v", "as": "vmax"}]}, {"window": [{"op": "lag", "field": "v", "as": "vp"}, {"op": "lead", "field": "v", "as": "vn"}], "groupby": ["g"], "sort": [{"field": "v", "order": "ascending"}]}, {"calculate": "datum.vp != null && datum.v - datum.vp < 0.04 * (datum.vmax - datum.vmin)", "as": "cp"}, {"calculate": "datum.vn != null && datum.vn - datum.v < 0.04 * (datum.vmax - datum.vmin)", "as": "cn"}, {"window": [{"op": "lag", "field": "cp", "as": "cpp"}, {"op": "lead", "field": "cn", "as": "cnn"}], "groupby": ["g"], "sort": [{"field": "v", "order": "ascending"}]}, {"calculate": "(datum.g == 'Control' ? 0 : 1) + (datum.cp && datum.cn ? 0 : datum.cn ? (datum.cnn ? -0.154 : -0.078) : datum.cp ? (datum.cpp ? 0.154 : 0.078) : 0)", "as": "gx"}], "mark": {"type": "point", "filled": true, "size": 60, "opacity": 1}, "encoding": {"color": {"field": "g", "type": "nominal", "scale": {"domain": ["Control", "Su/Hx"], "range": ["#4e9a2c", "#e63a1e"]}, "legend": null}, "shape": {"field": "g", "type": "nominal", "scale": {"domain": ["Control", "Su/Hx"], "range": ["circle", "square"]}, "legend": null}}},
       {"data": {"name": "pts"}, "transform": [{"filter": "datum.p == 'Glycerol-3-P'"}, {"aggregate": [{"op": "mean", "field": "v", "as": "v"}, {"op": "stderr", "field": "v", "as": "se"}], "groupby": ["g"]}, {"calculate": "datum.g == 'Control' ? 0 : 1", "as": "gx"}, {"calculate": "datum.v - datum.se", "as": "lo"}, {"calculate": "datum.v + datum.se", "as": "hi"}],
        "layer": [
         {"mark": {"type": "rule", "strokeWidth": 2}, "encoding": {"y": {"field": "lo", "type": "quantitative"}, "y2": {"field": "hi"}, "color": {"field": "g", "type": "nominal", "legend": null}}},
         {"mark": {"type": "tick", "orient": "horizontal", "size": 25, "thickness": 2}, "encoding": {"y": {"field": "lo", "type": "quantitative"}, "color": {"field": "g", "type": "nominal", "legend": null}}},
         {"mark": {"type": "tick", "orient": "horizontal", "size": 25, "thickness": 2}, "encoding": {"y": {"field": "hi", "type": "quantitative"}, "color": {"field": "g", "type": "nominal", "legend": null}}},
         {"mark": {"type": "tick", "orient": "horizontal", "size": 46, "thickness": 1.6, "color": "#1a1a1a"}, "encoding": {}}
        ]},
       {"data": {"name": "sig"}, "transform": [{"filter": "datum.p == 'Glycerol-3-P'"}],
        "layer": [
         {"transform": [{"calculate": "0", "as": "gx"}], "mark": "rule", "encoding": {"y": {"field": "left", "type": "quantitative"}, "y2": {"field": "top"}}},
         {"transform": [{"calculate": "0", "as": "gx"}, {"calculate": "1", "as": "gx2"}], "mark": "rule", "encoding": {"x2": {"field": "gx2"}, "y": {"field": "top", "type": "quantitative"}}},
         {"transform": [{"calculate": "1", "as": "gx"}], "mark": "rule", "encoding": {"y": {"field": "right", "type": "quantitative"}, "y2": {"field": "top"}}},
         {"transform": [{"calculate": "0.5", "as": "gx"}], "mark": "text", "encoding": {"y": {"field": "top", "type": "quantitative"}, "text": {"field": "stars"}}}
        ]}
      ]},
     {"spacing": 11, "hconcat": [
      {"title": "Ornithine", "width": 158, "height": 157,
       "encoding": {"x": {"field": "gx", "type": "quantitative", "scale": {"domain": [-0.69, 1.63], "nice": false, "zero": false}, "axis": {"values": [0, 1], "labelExpr": "datum.value == 0 ? 'Control' : 'Su/Hx'", "title": null}},
                    "y": {"field": "v", "type": "quantitative", "scale": {"domain": [0, 8e6], "nice": false, "zero": false}, "axis": {"values": [0, 2e6, 4e6, 6e6, 8e6], "labelExpr": "datum.value == 0 ? '0' : format(datum.value / pow(10, floor(log(datum.value) / LN10 + 1e-6)), '.0f') + '×10' + ['⁰','¹','²','³','⁴','⁵','⁶','⁷','⁸','⁹'][floor(log(datum.value) / LN10 + 1e-6)]", "title": "Relative changes (arbitrary units)"}}},
       "layer": [
        {"data": {"name": "pts"}, "transform": [{"filter": "datum.p == 'Ornithine'"}, {"joinaggregate": [{"op": "min", "field": "v", "as": "vmin"}, {"op": "max", "field": "v", "as": "vmax"}]}, {"window": [{"op": "lag", "field": "v", "as": "vp"}, {"op": "lead", "field": "v", "as": "vn"}], "groupby": ["g"], "sort": [{"field": "v", "order": "ascending"}]}, {"calculate": "datum.vp != null && datum.v - datum.vp < 0.04 * (datum.vmax - datum.vmin)", "as": "cp"}, {"calculate": "datum.vn != null && datum.vn - datum.v < 0.04 * (datum.vmax - datum.vmin)", "as": "cn"}, {"window": [{"op": "lag", "field": "cp", "as": "cpp"}, {"op": "lead", "field": "cn", "as": "cnn"}], "groupby": ["g"], "sort": [{"field": "v", "order": "ascending"}]}, {"calculate": "(datum.g == 'Control' ? 0 : 1) + (datum.cp && datum.cn ? 0 : datum.cn ? (datum.cnn ? -0.154 : -0.078) : datum.cp ? (datum.cpp ? 0.154 : 0.078) : 0)", "as": "gx"}], "mark": {"type": "point", "filled": true, "size": 60, "opacity": 1}, "encoding": {"color": {"field": "g", "type": "nominal", "scale": {"domain": ["Control", "Su/Hx"], "range": ["#4e9a2c", "#e63a1e"]}, "legend": null}, "shape": {"field": "g", "type": "nominal", "scale": {"domain": ["Control", "Su/Hx"], "range": ["circle", "square"]}, "legend": null}}},
        {"data": {"name": "pts"}, "transform": [{"filter": "datum.p == 'Ornithine'"}, {"aggregate": [{"op": "mean", "field": "v", "as": "v"}, {"op": "stderr", "field": "v", "as": "se"}], "groupby": ["g"]}, {"calculate": "datum.g == 'Control' ? 0 : 1", "as": "gx"}, {"calculate": "datum.v - datum.se", "as": "lo"}, {"calculate": "datum.v + datum.se", "as": "hi"}],
         "layer": [
          {"mark": {"type": "rule", "strokeWidth": 2}, "encoding": {"y": {"field": "lo", "type": "quantitative"}, "y2": {"field": "hi"}, "color": {"field": "g", "type": "nominal", "legend": null}}},
          {"mark": {"type": "tick", "orient": "horizontal", "size": 25, "thickness": 2}, "encoding": {"y": {"field": "lo", "type": "quantitative"}, "color": {"field": "g", "type": "nominal", "legend": null}}},
          {"mark": {"type": "tick", "orient": "horizontal", "size": 25, "thickness": 2}, "encoding": {"y": {"field": "hi", "type": "quantitative"}, "color": {"field": "g", "type": "nominal", "legend": null}}},
          {"mark": {"type": "tick", "orient": "horizontal", "size": 46, "thickness": 1.6, "color": "#1a1a1a"}, "encoding": {}}
         ]},
        {"data": {"name": "sig"}, "transform": [{"filter": "datum.p == 'Ornithine'"}],
         "layer": [
          {"transform": [{"calculate": "0", "as": "gx"}], "mark": "rule", "encoding": {"y": {"field": "left", "type": "quantitative"}, "y2": {"field": "top"}}},
          {"transform": [{"calculate": "0", "as": "gx"}, {"calculate": "1", "as": "gx2"}], "mark": "rule", "encoding": {"x2": {"field": "gx2"}, "y": {"field": "top", "type": "quantitative"}}},
          {"transform": [{"calculate": "1", "as": "gx"}], "mark": "rule", "encoding": {"y": {"field": "right", "type": "quantitative"}, "y2": {"field": "top"}}},
          {"transform": [{"calculate": "0.5", "as": "gx"}], "mark": "text", "encoding": {"y": {"field": "top", "type": "quantitative"}, "text": {"field": "stars"}}}
         ]}
       ]},
      {"title": "Asparagine", "width": 158, "height": 157,
       "encoding": {"x": {"field": "gx", "type": "quantitative", "scale": {"domain": [-0.69, 1.63], "nice": false, "zero": false}, "axis": {"values": [0, 1], "labelExpr": "datum.value == 0 ? 'Control' : 'Su/Hx'", "title": null}},
                    "y": {"field": "v", "type": "quantitative", "scale": {"domain": [1e8, 3e8], "nice": false, "zero": false}, "axis": {"values": [1e8, 1.5e8, 2e8, 2.5e8, 3e8], "labelExpr": "datum.value == 0 ? '0' : format(datum.value / pow(10, floor(log(datum.value) / LN10 + 1e-6)), '.1f') + '×10' + ['⁰','¹','²','³','⁴','⁵','⁶','⁷','⁸','⁹'][floor(log(datum.value) / LN10 + 1e-6)]", "title": "Relative changes (arbitrary units)"}}},
       "layer": [
        {"data": {"name": "pts"}, "transform": [{"filter": "datum.p == 'Asparagine'"}, {"joinaggregate": [{"op": "min", "field": "v", "as": "vmin"}, {"op": "max", "field": "v", "as": "vmax"}]}, {"window": [{"op": "lag", "field": "v", "as": "vp"}, {"op": "lead", "field": "v", "as": "vn"}], "groupby": ["g"], "sort": [{"field": "v", "order": "ascending"}]}, {"calculate": "datum.vp != null && datum.v - datum.vp < 0.04 * (datum.vmax - datum.vmin)", "as": "cp"}, {"calculate": "datum.vn != null && datum.vn - datum.v < 0.04 * (datum.vmax - datum.vmin)", "as": "cn"}, {"window": [{"op": "lag", "field": "cp", "as": "cpp"}, {"op": "lead", "field": "cn", "as": "cnn"}], "groupby": ["g"], "sort": [{"field": "v", "order": "ascending"}]}, {"calculate": "(datum.g == 'Control' ? 0 : 1) + (datum.cp && datum.cn ? 0 : datum.cn ? (datum.cnn ? -0.154 : -0.078) : datum.cp ? (datum.cpp ? 0.154 : 0.078) : 0)", "as": "gx"}], "mark": {"type": "point", "filled": true, "size": 60, "opacity": 1}, "encoding": {"color": {"field": "g", "type": "nominal", "scale": {"domain": ["Control", "Su/Hx"], "range": ["#4e9a2c", "#e63a1e"]}, "legend": null}, "shape": {"field": "g", "type": "nominal", "scale": {"domain": ["Control", "Su/Hx"], "range": ["circle", "square"]}, "legend": null}}},
        {"data": {"name": "pts"}, "transform": [{"filter": "datum.p == 'Asparagine'"}, {"aggregate": [{"op": "mean", "field": "v", "as": "v"}, {"op": "stderr", "field": "v", "as": "se"}], "groupby": ["g"]}, {"calculate": "datum.g == 'Control' ? 0 : 1", "as": "gx"}, {"calculate": "datum.v - datum.se", "as": "lo"}, {"calculate": "datum.v + datum.se", "as": "hi"}],
         "layer": [
          {"mark": {"type": "rule", "strokeWidth": 2}, "encoding": {"y": {"field": "lo", "type": "quantitative"}, "y2": {"field": "hi"}, "color": {"field": "g", "type": "nominal", "legend": null}}},
          {"mark": {"type": "tick", "orient": "horizontal", "size": 25, "thickness": 2}, "encoding": {"y": {"field": "lo", "type": "quantitative"}, "color": {"field": "g", "type": "nominal", "legend": null}}},
          {"mark": {"type": "tick", "orient": "horizontal", "size": 25, "thickness": 2}, "encoding": {"y": {"field": "hi", "type": "quantitative"}, "color": {"field": "g", "type": "nominal", "legend": null}}},
          {"mark": {"type": "tick", "orient": "horizontal", "size": 46, "thickness": 1.6, "color": "#1a1a1a"}, "encoding": {}}
         ]},
        {"data": {"name": "sig"}, "transform": [{"filter": "datum.p == 'Asparagine'"}],
         "layer": [
          {"transform": [{"calculate": "0", "as": "gx"}], "mark": "rule", "encoding": {"y": {"field": "left", "type": "quantitative"}, "y2": {"field": "top"}}},
          {"transform": [{"calculate": "0", "as": "gx"}, {"calculate": "1", "as": "gx2"}], "mark": "rule", "encoding": {"x2": {"field": "gx2"}, "y": {"field": "top", "type": "quantitative"}}},
          {"transform": [{"calculate": "1", "as": "gx"}], "mark": "rule", "encoding": {"y": {"field": "right", "type": "quantitative"}, "y2": {"field": "top"}}},
          {"transform": [{"calculate": "0.5", "as": "gx"}], "mark": "text", "encoding": {"y": {"field": "top", "type": "quantitative"}, "text": {"field": "stars"}}}
         ]}
       ]}
     ]}
    ]}
   ]},
   {"spacing": 57, "hconcat": [
    {"spacing": 33, "hconcat": [
     {"title": "Sarcosine", "width": 158, "height": 157,
      "encoding": {"x": {"field": "gx", "type": "quantitative", "scale": {"domain": [-0.69, 1.63], "nice": false, "zero": false}, "axis": {"values": [0, 1], "labelExpr": "datum.value == 0 ? 'Control' : 'Su/Hx'", "title": null}},
                   "y": {"field": "v", "type": "quantitative", "scale": {"domain": [1e7, 2e7], "nice": false, "zero": false}, "axis": {"values": [1e7, 1.2e7, 1.4e7, 1.6e7, 1.8e7, 2e7], "labelExpr": "datum.value == 0 ? '0' : format(datum.value / pow(10, floor(log(datum.value) / LN10 + 1e-6)), '.1f') + '×10' + ['⁰','¹','²','³','⁴','⁵','⁶','⁷','⁸','⁹'][floor(log(datum.value) / LN10 + 1e-6)]", "title": "Relative changes (arbitrary units)"}}},
      "layer": [
       {"data": {"name": "pts"}, "transform": [{"filter": "datum.p == 'Sarcosine'"}, {"joinaggregate": [{"op": "min", "field": "v", "as": "vmin"}, {"op": "max", "field": "v", "as": "vmax"}]}, {"window": [{"op": "lag", "field": "v", "as": "vp"}, {"op": "lead", "field": "v", "as": "vn"}], "groupby": ["g"], "sort": [{"field": "v", "order": "ascending"}]}, {"calculate": "datum.vp != null && datum.v - datum.vp < 0.04 * (datum.vmax - datum.vmin)", "as": "cp"}, {"calculate": "datum.vn != null && datum.vn - datum.v < 0.04 * (datum.vmax - datum.vmin)", "as": "cn"}, {"window": [{"op": "lag", "field": "cp", "as": "cpp"}, {"op": "lead", "field": "cn", "as": "cnn"}], "groupby": ["g"], "sort": [{"field": "v", "order": "ascending"}]}, {"calculate": "(datum.g == 'Control' ? 0 : 1) + (datum.cp && datum.cn ? 0 : datum.cn ? (datum.cnn ? -0.154 : -0.078) : datum.cp ? (datum.cpp ? 0.154 : 0.078) : 0)", "as": "gx"}], "mark": {"type": "point", "filled": true, "size": 60, "opacity": 1}, "encoding": {"color": {"field": "g", "type": "nominal", "scale": {"domain": ["Control", "Su/Hx"], "range": ["#4e9a2c", "#e63a1e"]}, "legend": null}, "shape": {"field": "g", "type": "nominal", "scale": {"domain": ["Control", "Su/Hx"], "range": ["circle", "square"]}, "legend": null}}},
       {"data": {"name": "pts"}, "transform": [{"filter": "datum.p == 'Sarcosine'"}, {"aggregate": [{"op": "mean", "field": "v", "as": "v"}, {"op": "stderr", "field": "v", "as": "se"}], "groupby": ["g"]}, {"calculate": "datum.g == 'Control' ? 0 : 1", "as": "gx"}, {"calculate": "datum.v - datum.se", "as": "lo"}, {"calculate": "datum.v + datum.se", "as": "hi"}],
        "layer": [
         {"mark": {"type": "rule", "strokeWidth": 2}, "encoding": {"y": {"field": "lo", "type": "quantitative"}, "y2": {"field": "hi"}, "color": {"field": "g", "type": "nominal", "legend": null}}},
         {"mark": {"type": "tick", "orient": "horizontal", "size": 25, "thickness": 2}, "encoding": {"y": {"field": "lo", "type": "quantitative"}, "color": {"field": "g", "type": "nominal", "legend": null}}},
         {"mark": {"type": "tick", "orient": "horizontal", "size": 25, "thickness": 2}, "encoding": {"y": {"field": "hi", "type": "quantitative"}, "color": {"field": "g", "type": "nominal", "legend": null}}},
         {"mark": {"type": "tick", "orient": "horizontal", "size": 46, "thickness": 1.6, "color": "#1a1a1a"}, "encoding": {}}
        ]},
       {"data": {"name": "sig"}, "transform": [{"filter": "datum.p == 'Sarcosine'"}],
        "layer": [
         {"transform": [{"calculate": "0", "as": "gx"}], "mark": "rule", "encoding": {"y": {"field": "left", "type": "quantitative"}, "y2": {"field": "top"}}},
         {"transform": [{"calculate": "0", "as": "gx"}, {"calculate": "1", "as": "gx2"}], "mark": "rule", "encoding": {"x2": {"field": "gx2"}, "y": {"field": "top", "type": "quantitative"}}},
         {"transform": [{"calculate": "1", "as": "gx"}], "mark": "rule", "encoding": {"y": {"field": "right", "type": "quantitative"}, "y2": {"field": "top"}}},
         {"transform": [{"calculate": "0.5", "as": "gx"}], "mark": "text", "encoding": {"y": {"field": "top", "type": "quantitative"}, "text": {"field": "stars"}}}
        ]}
      ]},
     {"title": "HS203", "width": 158, "height": 157,
      "encoding": {"x": {"field": "gx", "type": "quantitative", "scale": {"domain": [-0.69, 1.63], "nice": false, "zero": false}, "axis": {"values": [0, 1], "labelExpr": "datum.value == 0 ? 'Control' : 'Su/Hx'", "title": null}},
                   "y": {"field": "v", "type": "quantitative", "scale": {"domain": [1000000, 1800000], "nice": false, "zero": false}, "axis": {"values": [1000000, 1200000, 1400000, 1600000, 1800000], "format": "d", "title": "Relative changes (arbitrary units)"}}},
      "layer": [
       {"data": {"name": "pts"}, "transform": [{"filter": "datum.p == 'HS203'"}, {"joinaggregate": [{"op": "min", "field": "v", "as": "vmin"}, {"op": "max", "field": "v", "as": "vmax"}]}, {"window": [{"op": "lag", "field": "v", "as": "vp"}, {"op": "lead", "field": "v", "as": "vn"}], "groupby": ["g"], "sort": [{"field": "v", "order": "ascending"}]}, {"calculate": "datum.vp != null && datum.v - datum.vp < 0.04 * (datum.vmax - datum.vmin)", "as": "cp"}, {"calculate": "datum.vn != null && datum.vn - datum.v < 0.04 * (datum.vmax - datum.vmin)", "as": "cn"}, {"window": [{"op": "lag", "field": "cp", "as": "cpp"}, {"op": "lead", "field": "cn", "as": "cnn"}], "groupby": ["g"], "sort": [{"field": "v", "order": "ascending"}]}, {"calculate": "(datum.g == 'Control' ? 0 : 1) + (datum.cp && datum.cn ? 0 : datum.cn ? (datum.cnn ? -0.154 : -0.078) : datum.cp ? (datum.cpp ? 0.154 : 0.078) : 0)", "as": "gx"}], "mark": {"type": "point", "filled": true, "size": 60, "opacity": 1}, "encoding": {"color": {"field": "g", "type": "nominal", "scale": {"domain": ["Control", "Su/Hx"], "range": ["#4e9a2c", "#e63a1e"]}, "legend": null}, "shape": {"field": "g", "type": "nominal", "scale": {"domain": ["Control", "Su/Hx"], "range": ["circle", "square"]}, "legend": null}}},
       {"data": {"name": "pts"}, "transform": [{"filter": "datum.p == 'HS203'"}, {"aggregate": [{"op": "mean", "field": "v", "as": "v"}, {"op": "stderr", "field": "v", "as": "se"}], "groupby": ["g"]}, {"calculate": "datum.g == 'Control' ? 0 : 1", "as": "gx"}, {"calculate": "datum.v - datum.se", "as": "lo"}, {"calculate": "datum.v + datum.se", "as": "hi"}],
        "layer": [
         {"mark": {"type": "rule", "strokeWidth": 2}, "encoding": {"y": {"field": "lo", "type": "quantitative"}, "y2": {"field": "hi"}, "color": {"field": "g", "type": "nominal", "legend": null}}},
         {"mark": {"type": "tick", "orient": "horizontal", "size": 25, "thickness": 2}, "encoding": {"y": {"field": "lo", "type": "quantitative"}, "color": {"field": "g", "type": "nominal", "legend": null}}},
         {"mark": {"type": "tick", "orient": "horizontal", "size": 25, "thickness": 2}, "encoding": {"y": {"field": "hi", "type": "quantitative"}, "color": {"field": "g", "type": "nominal", "legend": null}}},
         {"mark": {"type": "tick", "orient": "horizontal", "size": 46, "thickness": 1.6, "color": "#1a1a1a"}, "encoding": {}}
        ]},
       {"data": {"name": "sig"}, "transform": [{"filter": "datum.p == 'HS203'"}],
        "layer": [
         {"transform": [{"calculate": "0", "as": "gx"}], "mark": "rule", "encoding": {"y": {"field": "left", "type": "quantitative"}, "y2": {"field": "top"}}},
         {"transform": [{"calculate": "0", "as": "gx"}, {"calculate": "1", "as": "gx2"}], "mark": "rule", "encoding": {"x2": {"field": "gx2"}, "y": {"field": "top", "type": "quantitative"}}},
         {"transform": [{"calculate": "1", "as": "gx"}], "mark": "rule", "encoding": {"y": {"field": "right", "type": "quantitative"}, "y2": {"field": "top"}}},
         {"transform": [{"calculate": "0.5", "as": "gx"}], "mark": "text", "encoding": {"y": {"field": "top", "type": "quantitative"}, "text": {"field": "stars"}}}
        ]}
      ]}
    ]},
    {"title": "Choline", "width": 158, "height": 157,
     "encoding": {"x": {"field": "gx", "type": "quantitative", "scale": {"domain": [-0.69, 1.63], "nice": false, "zero": false}, "axis": {"values": [0, 1], "labelExpr": "datum.value == 0 ? 'Control' : 'Su/Hx'", "title": null}},
                  "y": {"field": "v", "type": "quantitative", "scale": {"domain": [0, 1e9], "nice": false, "zero": false}, "axis": {"values": [0, 2e8, 4e8, 6e8, 8e8, 1e9], "labelExpr": "datum.value == 0 ? '0' : format(datum.value / pow(10, floor(log(datum.value) / LN10 + 1e-6)), '.0f') + '×10' + ['⁰','¹','²','³','⁴','⁵','⁶','⁷','⁸','⁹'][floor(log(datum.value) / LN10 + 1e-6)]", "title": "Relative changes (arbitrary units)"}}},
     "layer": [
      {"data": {"name": "pts"}, "transform": [{"filter": "datum.p == 'Choline'"}, {"joinaggregate": [{"op": "min", "field": "v", "as": "vmin"}, {"op": "max", "field": "v", "as": "vmax"}]}, {"window": [{"op": "lag", "field": "v", "as": "vp"}, {"op": "lead", "field": "v", "as": "vn"}], "groupby": ["g"], "sort": [{"field": "v", "order": "ascending"}]}, {"calculate": "datum.vp != null && datum.v - datum.vp < 0.04 * (datum.vmax - datum.vmin)", "as": "cp"}, {"calculate": "datum.vn != null && datum.vn - datum.v < 0.04 * (datum.vmax - datum.vmin)", "as": "cn"}, {"window": [{"op": "lag", "field": "cp", "as": "cpp"}, {"op": "lead", "field": "cn", "as": "cnn"}], "groupby": ["g"], "sort": [{"field": "v", "order": "ascending"}]}, {"calculate": "(datum.g == 'Control' ? 0 : 1) + (datum.cp && datum.cn ? 0 : datum.cn ? (datum.cnn ? -0.154 : -0.078) : datum.cp ? (datum.cpp ? 0.154 : 0.078) : 0)", "as": "gx"}], "mark": {"type": "point", "filled": true, "size": 60, "opacity": 1}, "encoding": {"color": {"field": "g", "type": "nominal", "scale": {"domain": ["Control", "Su/Hx"], "range": ["#4e9a2c", "#e63a1e"]}, "legend": null}, "shape": {"field": "g", "type": "nominal", "scale": {"domain": ["Control", "Su/Hx"], "range": ["circle", "square"]}, "legend": null}}},
      {"data": {"name": "pts"}, "transform": [{"filter": "datum.p == 'Choline'"}, {"aggregate": [{"op": "mean", "field": "v", "as": "v"}, {"op": "stderr", "field": "v", "as": "se"}], "groupby": ["g"]}, {"calculate": "datum.g == 'Control' ? 0 : 1", "as": "gx"}, {"calculate": "datum.v - datum.se", "as": "lo"}, {"calculate": "datum.v + datum.se", "as": "hi"}],
       "layer": [
        {"mark": {"type": "rule", "strokeWidth": 2}, "encoding": {"y": {"field": "lo", "type": "quantitative"}, "y2": {"field": "hi"}, "color": {"field": "g", "type": "nominal", "legend": null}}},
        {"mark": {"type": "tick", "orient": "horizontal", "size": 25, "thickness": 2}, "encoding": {"y": {"field": "lo", "type": "quantitative"}, "color": {"field": "g", "type": "nominal", "legend": null}}},
        {"mark": {"type": "tick", "orient": "horizontal", "size": 25, "thickness": 2}, "encoding": {"y": {"field": "hi", "type": "quantitative"}, "color": {"field": "g", "type": "nominal", "legend": null}}},
        {"mark": {"type": "tick", "orient": "horizontal", "size": 46, "thickness": 1.6, "color": "#1a1a1a"}, "encoding": {}}
       ]},
      {"data": {"name": "sig"}, "transform": [{"filter": "datum.p == 'Choline'"}],
       "layer": [
        {"transform": [{"calculate": "0", "as": "gx"}], "mark": "rule", "encoding": {"y": {"field": "left", "type": "quantitative"}, "y2": {"field": "top"}}},
        {"transform": [{"calculate": "0", "as": "gx"}, {"calculate": "1", "as": "gx2"}], "mark": "rule", "encoding": {"x2": {"field": "gx2"}, "y": {"field": "top", "type": "quantitative"}}},
        {"transform": [{"calculate": "1", "as": "gx"}], "mark": "rule", "encoding": {"y": {"field": "right", "type": "quantitative"}, "y2": {"field": "top"}}},
        {"transform": [{"calculate": "0.5", "as": "gx"}], "mark": "text", "encoding": {"y": {"field": "top", "type": "quantitative"}, "text": {"field": "stars"}}}
       ]}
     ]}
   ]}
  ]}
  ]}
 ], "spacing": 16},
 {"width": 1200, "height": 0.01, "data": {"values": []}, "mark": "point", "view": {"stroke": "#222222", "strokeWidth": 2, "strokeDash": [6, 3]}}
], "spacing": 5},
{"width": 0.01, "height": 705, "data": {"values": []}, "mark": "point", "view": {"stroke": "#222222", "strokeWidth": 2, "strokeDash": [6, 3]}}
],
"config": {
 "view": {"stroke": null},
 "font": "Liberation Sans",
 "axis": {"grid": false, "domainColor": "#1a1a1a", "domainWidth": 1.5, "tickColor": "#1a1a1a", "tickWidth": 1.5, "tickSize": 4, "labelFont": "Liberation Sans", "labelFontWeight": "bold", "labelFontSize": 8.3, "labelColor": "#1a1a1a", "labelPadding": 2, "titleFont": "Liberation Sans", "titleFontWeight": "bold", "titleFontSize": 9, "titleColor": "#1a1a1a"},
 "axisY": {"minExtent": 38, "maxExtent": 38, "titlePadding": 3},
 "axisX": {"labelFontSize": 8.3, "labelPadding": 3, "labelAngle": 0},
 "title": {"font": "Liberation Sans", "fontSize": 10, "fontWeight": "bold", "color": "#1a1a1a", "offset": 12, "frame": "group", "anchor": "middle"},
 "rule": {"color": "#333333", "strokeWidth": 1.3},
 "text": {"font": "Liberation Sans", "fontSize": 14, "fontWeight": "bold", "color": "#1a1a1a", "baseline": "alphabetic", "dy": 1}
}
}
